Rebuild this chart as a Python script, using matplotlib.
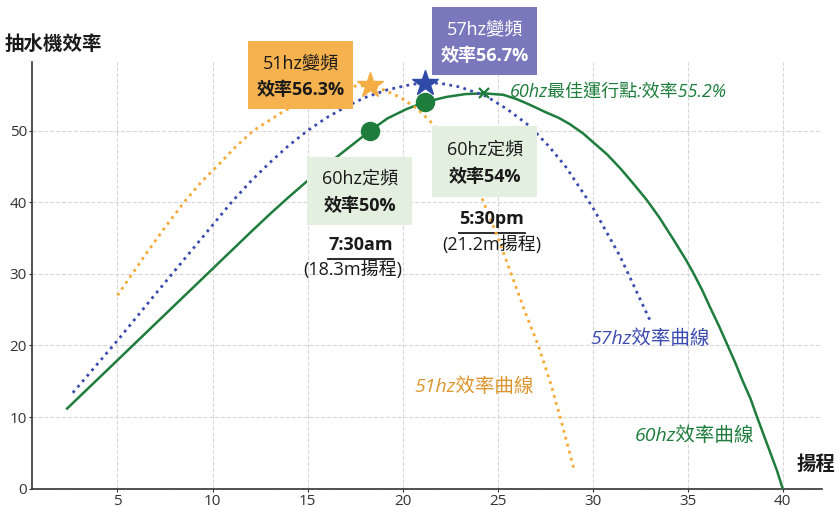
import matplotlib.pyplot as plt
from matplotlib.patches import Rectangle

plt.rcParams['font.family'] = ['Open Sans', 'Noto Sans CJK TC', 'DejaVu Sans']

# 60hz constant-speed efficiency curve (head m, efficiency %)
head_60 = [2.35, 4, 6, 8, 10, 12, 13, 14, 15, 16, 17.2, 18.3, 19.2, 20.2, 21.2, 22.3, 23.3,
           24.3, 25.3, 26.0, 26.7, 27.5, 28.2, 28.8, 29.5, 30.1, 30.75, 31.5, 32.2, 32.85,
           33.5, 34.2, 34.9, 35.3, 35.75, 36.2, 36.65, 37.1, 37.5, 37.9, 38.3, 38.65, 39.0,
           39.35, 39.7, 40.0]
eff_60 = [11.2, 15.4, 20.5, 25.6, 30.7, 35.8, 38.3, 40.7, 43.0, 45.2, 47.7, 50.0, 51.7, 53.0,
          54.0, 54.7, 55.1, 55.2, 55.0, 54.4, 53.6, 52.6, 51.8, 50.9, 49.6, 48.2, 46.7,
          44.6, 42.4, 40.3, 37.9, 35.0, 32.0, 30.1, 27.8, 25.2, 22.7, 20.0, 17.6, 15.0,
          12.6, 10.0, 7.5, 5.0, 2.5, 0.0]

# 57hz variable-speed curve
head_57 = [2.65, 5, 7, 9, 11, 12, 13, 14, 15, 16, 17, 18, 19.2, 20.2, 21.1, 22.0, 23.0,
           24.4, 25.5, 26.7, 27.7, 28.6, 30.0, 31.45, 33.0]
eff_57 = [13.4, 20.7, 27.2, 33.6, 40.0, 42.9, 45.5, 47.9, 50.0, 51.8, 53.3, 54.6, 55.7,
          56.3, 56.7, 56.6, 56.1, 54.8, 53.0, 50.6, 47.8, 44.9, 39.3, 32.4, 23.6]

# 51hz variable-speed curve
head_51 = [5, 6.5, 7.5, 8.5, 9.4, 10.3, 11.2, 12.15, 13.8, 15.5, 16.5, 17.4, 18.3, 19.1,
           19.9, 20.8, 21.6, 22.4, 23.3, 24.2, 25.0, 25.7, 26.4, 27.15, 27.8, 28.3, 29.0]
eff_51 = [27.0, 32.8, 36.5, 40.0, 42.8, 45.2, 47.7, 50.0, 52.8, 54.9, 55.7, 56.2, 56.3,
          55.6, 54.6, 53.0, 50.9, 48.2, 44.3, 40.4, 35.2, 30.1, 25.0, 19.9, 14.6, 9.9, 2.9]

# operating points
star_51 = (18.3, 56.3)
star_57 = (21.2, 56.7)
fixed_pts_head = [18.3, 21.2]
fixed_pts_eff = [50.0, 54.0]
best_60 = (24.3, 55.2)

GREEN = '#1e7d3c'
BLUE = '#3b4bb0'
ORANGE = '#f7a934'

fig = plt.figure(figsize=(8.39, 5.07), dpi=100)
ax = fig.add_axes([0.0381, 0.036, 0.9413, 0.842])

ax.plot(head_60, eff_60, color=GREEN, lw=1.8, zorder=3)
ax.plot(head_57, eff_57, color=BLUE, lw=2.0, ls=(0, (1, 1.6)), zorder=3)
ax.plot(head_51, eff_51, color=ORANGE, lw=2.0, ls=(0, (1, 1.6)), zorder=3)

ax.plot(*star_51, marker='*', ms=19, color='#f5ad45', zorder=5)
ax.plot(*star_57, marker='*', ms=19, color='#2f4aa6', zorder=5)
ax.plot(fixed_pts_head, fixed_pts_eff, ls='none', marker='o', ms=13, color=GREEN, zorder=5)
ax.plot(*best_60, marker='x', ms=7, mew=1.6, color=GREEN, zorder=5)

ax.set_xlim(0.5, 42.05)
ax.set_ylim(0, 59.6)
ax.set_xticks([5, 10, 15, 20, 25, 30, 35, 40])
ax.set_yticks([0, 10, 20, 30, 40, 50])
ax.tick_params(labelsize=11, colors='#333333', length=2.5, pad=1)
ax.grid(True, ls='--', color='#d8d8d8', lw=0.8)
for s in ['top', 'right']:
    ax.spines[s].set_visible(False)
for s in ['left', 'bottom']:
    ax.spines[s].set_color('#333333')
    ax.spines[s].set_linewidth(1.2)


def label_box(x0, x1, y0, y1, face, line1, line2, color):
    ax.add_patch(Rectangle((x0, y0), x1 - x0, y1 - y0, facecolor=face, edgecolor='none',
                           zorder=6, clip_on=False))
    xc = (x0 + x1) / 2
    ax.text(xc, y0 + (y1 - y0) * 0.68, line1, ha='center', va='center', fontsize=13,
            color=color, zorder=7, clip_on=False)
    ax.text(xc, y0 + (y1 - y0) * 0.28, line2, ha='center', va='center', fontsize=13,
            fontweight='bold', color=color, zorder=7, clip_on=False)


label_box(11.85, 17.4, 53.0, 62.5, '#f6b24f', '51hz變頻', '效率56.3%', '#1a1a1a')
label_box(21.56, 27.08, 57.7, 67.2, '#7a78bd', '57hz變頻', '效率56.7%', 'white')
label_box(14.98, 20.5, 36.8, 46.3, '#e3efdf', '60hz定頻', '效率50%', '#1a1a1a')
label_box(21.56, 27.08, 40.7, 50.6, '#e3efdf', '60hz定頻', '效率54%', '#1a1a1a')

ax.text(17.8, 34.1, '7:30am', ha='center', va='center', fontsize=13, fontweight='bold',
        color='#1a1a1a')
ax.plot([16.1, 19.5], [32.1, 32.1], color='#1a1a1a', lw=1.3)
ax.text(17.4, 30.6, '(18.3m揚程)', ha='center', va='center', fontsize=13, color='#1a1a1a')

ax.text(24.7, 37.7, '5:30pm', ha='center', va='center', fontsize=13, fontweight='bold',
        color='#1a1a1a')
ax.plot([22.95, 26.45], [35.7, 35.7], color='#1a1a1a', lw=1.3)
ax.text(24.7, 34.1, '(21.2m揚程)', ha='center', va='center', fontsize=13, color='#1a1a1a')

ax.text(25.65, 55.4, '60hz最佳運行點:效率55.2%', ha='left', va='center', fontsize=13,
        style='italic', color=GREEN)
ax.text(29.9, 20.9, '57hz效率曲線', ha='left', va='center', fontsize=14, style='italic',
        color=BLUE)
ax.text(20.6, 14.2, '51hz效率曲線', ha='left', va='center', fontsize=14, style='italic',
        color='#dd962f')
ax.text(32.2, 7.4, '60hz效率曲線', ha='left', va='center', fontsize=14, style='italic',
        color=GREEN)

fig.text(5 / 839, 1 - 45 / 507, '抽水機效率', ha='left', va='center', fontsize=14,
         fontweight='bold', style='italic', color='#1a1a1a')
fig.text(836 / 839, 1 - 465 / 507, '揚程', ha='right', va='center', fontsize=14,
         fontweight='bold', style='italic', color='#1a1a1a')

fig.savefig('out.png', dpi=100)
